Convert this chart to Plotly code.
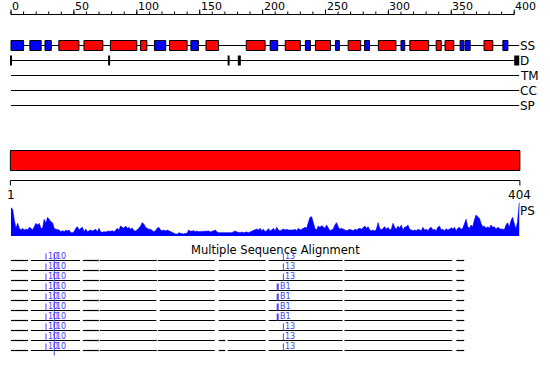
import numpy as np
import plotly.graph_objects as go

# ---------------- data ----------------
SEQ_LEN = 404
ruler_major = [0, 50, 100, 150, 200, 250, 300, 350, 400]
ruler_labels = ["0", "50", "100", "150", "200", "250", "300", "350", "400"]
ruler_minor = list(range(0, 401, 10))

strand_start = [0, 15, 27, 114, 143, 206, 234, 258, 281, 310, 357, 361, 391]
strand_end = [10, 24, 32, 123, 149, 212, 238, 261, 285, 313, 360, 365, 395]
helix_start = [38, 58, 79, 103, 126, 155, 187, 218, 242, 268, 292, 317, 338, 345, 376]
helix_end = [54, 73, 100, 108, 140, 165, 202, 230, 254, 278, 306, 332, 342, 352, 383]

domain_bounds = [0, 78, 173, 181.5]
domain_block = [400, 404]
track_names = ["SS", "D", "TM", "CC", "SP"]

ps_scores = [
    0.85, 0.80, 0.48, 0.23, 0.38, 0.23, 0.18, 0.23, 0.18, 0.21, 0.18, 0.26, 0.23, 0.18, 0.28, 0.38,
    0.33, 0.38, 0.23, 0.23, 0.50, 0.38, 0.56, 0.48, 0.43, 0.40, 0.23, 0.20, 0.20, 0.18, 0.13, 0.16,
    0.13, 0.18, 0.15, 0.18, 0.10, 0.10, 0.13, 0.23, 0.28, 0.18, 0.23, 0.26, 0.13, 0.21, 0.13, 0.15,
    0.18, 0.15, 0.18, 0.20, 0.13, 0.23, 0.12, 0.11, 0.13, 0.12, 0.14, 0.13, 0.14, 0.16, 0.12, 0.18,
    0.23, 0.18, 0.30, 0.26, 0.23, 0.30, 0.23, 0.26, 0.20, 0.24, 0.16, 0.15, 0.18, 0.23, 0.30, 0.40,
    0.36, 0.26, 0.23, 0.20, 0.20, 0.15, 0.13, 0.16, 0.23, 0.26, 0.18, 0.16, 0.18, 0.15, 0.18, 0.16,
    0.13, 0.10, 0.08, 0.06, 0.05, 0.10, 0.08, 0.06, 0.06, 0.08, 0.08, 0.18, 0.14, 0.15, 0.16, 0.13,
    0.15, 0.13, 0.13, 0.15, 0.13, 0.15, 0.14, 0.15, 0.12, 0.13, 0.16, 0.18, 0.12, 0.10, 0.10, 0.10,
    0.11, 0.10, 0.12, 0.11, 0.10, 0.10, 0.13, 0.15, 0.12, 0.11, 0.10, 0.12, 0.10, 0.11, 0.12, 0.10,
    0.12, 0.15, 0.18, 0.20, 0.21, 0.18, 0.23, 0.16, 0.20, 0.13,
    0.16, 0.22, 0.15, 0.18, 0.23, 0.16, 0.26, 0.18, 0.15, 0.18, 0.21, 0.18, 0.20, 0.18, 0.18, 0.16,
    0.18, 0.20, 0.16, 0.23, 0.18, 0.20, 0.23, 0.26, 0.23, 0.38, 0.56, 0.58, 0.43, 0.23, 0.18, 0.30,
    0.26, 0.31, 0.28, 0.23, 0.33, 0.23, 0.16, 0.18, 0.21, 0.33, 0.40, 0.28, 0.20, 0.23, 0.20, 0.18,
    0.16, 0.18, 0.20, 0.18, 0.16, 0.20, 0.18, 0.21, 0.23, 0.20, 0.26, 0.30, 0.23, 0.28, 0.18, 0.16,
    0.18, 0.15, 0.20, 0.40, 0.23, 0.18, 0.23, 0.28, 0.20, 0.26, 0.18, 0.20, 0.38, 0.26, 0.20, 0.30,
    0.23, 0.33, 0.18, 0.26, 0.28, 0.33, 0.20, 0.18, 0.16, 0.18, 0.16, 0.20, 0.18, 0.16, 0.26, 0.18,
    0.20, 0.16, 0.23, 0.26, 0.18, 0.20, 0.16, 0.26, 0.30, 0.18, 0.20, 0.16, 0.22, 0.18, 0.20, 0.25,
    0.21, 0.26, 0.16, 0.23, 0.26, 0.20, 0.23, 0.38, 0.50, 0.28, 0.23, 0.33, 0.28, 0.48, 0.63, 0.58,
    0.53, 0.38, 0.28, 0.30, 0.23, 0.28, 0.23, 0.33, 0.26, 0.28, 0.20, 0.26, 0.23, 0.20, 0.21, 0.18,
    0.33, 0.40, 0.26, 0.46, 0.56, 0.40, 0.20, 0.43, 1.00,
]
ps_pos = np.linspace(0, SEQ_LEN, len(ps_scores))

# multiple sequence alignment: segments per row (alignment columns)
msa_seg_a = [[0, 13.5], [15.9, 54.8], [57.1, 69.8], [70.6, 115.9], [116.7, 162], [165.1, 202.4],
             [204.8, 263.5], [265.1, 350.8], [354, 360.3]]
msa_seg_b = [[0, 13.5], [15.9, 54.8], [57.1, 69.8], [70.6, 115.5], [118.3, 162], [165.1, 202.4],
             [204.8, 263.5], [265.1, 350.8], [354, 360.3]]
msa_seg_c = [[0, 13.5], [15.9, 54.8], [57.1, 69.8], [70.6, 115.9], [116.7, 162], [165.1, 170.3],
             [172.3, 202.4], [204.8, 263.5], [265.1, 350.8], [354, 360.3]]
msa_rows = [msa_seg_a, msa_seg_a, msa_seg_a, msa_seg_b, msa_seg_b, msa_seg_b, msa_seg_b,
            msa_seg_a, msa_seg_c, msa_seg_c]
msa_label_pos = [[27.8, 34.4, 216.5]] * 3 + [[27.8, 34.4, 212.0]] * 4 + [[27.8, 34.4, 216.5]] * 3
msa_label_txt = [["10", "10", "13"]] * 3 + [["10", "10", "B1"]] * 4 + [["10", "10", "13"]] * 3

# ---------------- layout constants ----------------
W, H = 550, 380
PX = 1.258
X0 = -11 / PX
X1 = X0 + W / PX
FONT = "DejaVu Sans"
RULER_Y = 14.5
TRACK_Y = [45.5, 60.5, 75.5, 90.5, 105.5]
BAR_Y0, BAR_Y1 = 150.5, 170.5
RULER2_Y = 180.5
PS_BASE, PS_TOP = 236, 196
MSA_Y0 = 260.5
MSA_DY = 10
LABEL_BLUE = "#4444ff"

shapes = []
ann = []


def line(x0, y0, x1, y1, w=1, color="black"):
    shapes.append(dict(type="line", xref="x", yref="y", x0=x0, y0=y0, x1=x1, y1=y1,
                       line=dict(color=color, width=w), layer="above"))


def rect(x0, y0, x1, y1, fill, w=1):
    shapes.append(dict(type="rect", xref="x", yref="y", x0=x0, y0=y0, x1=x1, y1=y1,
                       fillcolor=fill, line=dict(color="black", width=w), layer="above"))


def text(x, y, s, size=11, xanchor="left", color="black", xref="x"):
    ann.append(dict(x=x, y=y, xref=xref, yref="y", text=s, showarrow=False,
                    xanchor=xanchor, yanchor="middle", font=dict(family=FONT, size=size, color=color),
                    borderpad=0))


# top ruler
line(0, RULER_Y, ruler_major[-1], RULER_Y)
for t in ruler_minor:
    line(t, RULER_Y - 3, t, RULER_Y)
for t, lab in zip(ruler_major, ruler_labels):
    line(t, RULER_Y - 5, t, RULER_Y)
    text(t, 6, lab, size=11)

# tracks
line(0, TRACK_Y[0], SEQ_LEN, TRACK_Y[0])
for s, e in zip(strand_start, strand_end):
    rect(s, TRACK_Y[0] - 5, e, TRACK_Y[0] + 5, "#0000ff")
for s, e in zip(helix_start, helix_end):
    rect(s, TRACK_Y[0] - 5, e, TRACK_Y[0] + 5, "#ff0000")

line(0, TRACK_Y[1], domain_block[0], TRACK_Y[1])
for b in domain_bounds:
    line(b, TRACK_Y[1] - 5, b, TRACK_Y[1] + 5, w=2 if b < 180 else 3)
rect(domain_block[0], TRACK_Y[1] - 5, domain_block[1], TRACK_Y[1] + 5, "black", w=0)

for yy in TRACK_Y[2:]:
    line(0, yy, SEQ_LEN, yy)

for name, yy in zip(track_names, TRACK_Y):
    text(SEQ_LEN, yy, name, size=12)

# full-length bar with ruler
rect(-0.5, BAR_Y0, SEQ_LEN + 0.5, BAR_Y1, "#ff0000")
line(-0.5, RULER2_Y, SEQ_LEN + 0.5, RULER2_Y)
line(-0.5, RULER2_Y, -0.5, RULER2_Y + 5)
line(SEQ_LEN + 0.5, RULER2_Y, SEQ_LEN + 0.5, RULER2_Y + 5)
text(0, 195, "1", size=12, xanchor="center")
text(SEQ_LEN, 195, str(SEQ_LEN), size=12, xanchor="center")
text(SEQ_LEN, 211, "PS", size=12)

# MSA
text(0.5, 250, "Multiple Sequence Alignment", size=11.5, xanchor="center", xref="paper")
for i, segs in enumerate(msa_rows):
    yy = MSA_Y0 + i * MSA_DY
    for s, e in segs:
        line(s, yy, e, yy, w=1.2)
    for j, (p, t) in enumerate(zip(msa_label_pos[i], msa_label_txt[i])):
        thick = t == "B1"
        low = yy + 5 if j == 1 else yy
        line(p, yy - 7, p, low, w=2 if thick else 1, color=LABEL_BLUE)
        text(p + 0.9, yy - 4.5, t, size=8, color=LABEL_BLUE)

fig = go.Figure()
fig.add_trace(go.Scatter(x=[X0, X1], y=[0, H], mode="markers", marker=dict(opacity=0),
                         hoverinfo="skip", showlegend=False))
fig.add_trace(go.Scatter(x=ps_pos, y=ps_scores, xaxis="x", yaxis="y2", mode="lines",
                         fill="tozeroy", fillcolor="#0000ff", line=dict(color="#0000ff", width=0.6),
                         hoverinfo="skip", showlegend=False))

fig.update_layout(
    width=W, height=H, margin=dict(l=0, r=0, t=0, b=0),
    paper_bgcolor="white", plot_bgcolor="white",
    xaxis=dict(range=[X0, X1], visible=False, domain=[0, 1]),
    yaxis=dict(range=[H, 0], visible=False, domain=[0, 1]),
    yaxis2=dict(range=[0, 1.2], visible=False, anchor="x",
                domain=[(H - PS_BASE) / H, (H - PS_TOP) / H]),
    shapes=shapes, annotations=ann, showlegend=False,
)
fig.write_html("out.html")
